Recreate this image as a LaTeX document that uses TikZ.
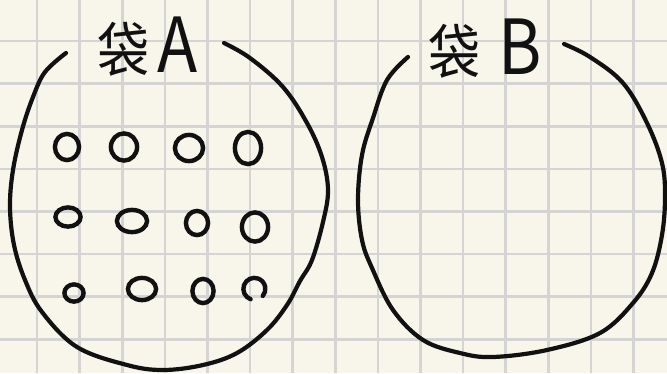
\documentclass[tikz,border=0pt]{standalone}
\usepackage{fontspec}
\newfontfamily\cjk{Noto Sans CJK SC}
\usepackage{tikz}
\usetikzlibrary{positioning}
\definecolor{paper}{HTML}{F8F6EA}
\definecolor{rule}{HTML}{D4D4D4}
\definecolor{pen}{HTML}{111111}
\tikzset{
  gridline/.style={rule,line width=2.6pt},
  bagline/.style={pen,line width=4.2pt,line cap=round,line join=round},
  ball/.style={pen,line width=4.4pt,line cap=round},
}

\begin{document}
\begin{tikzpicture}[x=1pt,y=-1pt]
  \fill[paper] (0,0) rectangle (667,373);
  \useasboundingbox (0,0) rectangle (667,373);
  % squared paper
  \foreach \i in {0,...,14} \draw[gridline] ({37+42.6*\i},0) -- ({37+42.6*\i},373);
  \foreach \j in {1,...,8} \draw[gridline] (0,{-1.6+42.6*\j}) -- (667,{-1.6+42.6*\j});
  % bag A
  \draw[bagline] plot[smooth,tension=0.6] coordinates {(66,53) (45,72) (33,97) (22,130) (13,170) (10,207) (14,245) (25,280) (42,312) (77,347) (127,365) (163,370) (203,365) (237,353) (267,330) (287,305) (300,281) (312,260) (323,222) (328,190) (322,157) (307,123) (283,87) (250,58) (224,43)};
  % bag B
  \draw[bagline] plot[smooth,tension=0.6] coordinates {(408,57) (387,80) (373,118) (362,155) (358,200) (362,240) (372,268) (393,310) (423,340) (460,353) (493,357) (547,350) (600,333) (633,303) (652,273) (662,235) (665,197) (662,163) (647,123) (623,83) (590,57) (564,44)};
  \node[pen,anchor=base west,inner sep=0pt,yscale=1.15] (labelA) at (97,72) {\cjk\fontsize{52}{52}\selectfont 袋\hspace{8pt}\fontsize{66}{66}\selectfont A};
  \node[pen,anchor=base west,inner sep=0pt,yscale=1.15] (labelB) at (428,74) {\cjk\fontsize{52}{52}\selectfont 袋\hspace{18pt}\fontsize{66}{66}\selectfont B};
  % balls in bag A
  \foreach \cx/\cy/\rx/\ry in {67/147/12.1/13.1, 124/147/13.1/13.6, 189/148/14.1/13.1, 248/148/13.1/16.1,
      68/217/12.6/9.6, 132/221/15.1/11.1, 197/223/11.1/12.1, 255/227/13.1/14.6,
      74/293/9.6/8.6, 142/289/14.1/11.1, 203/291/10.6/12.1}
    \draw[ball] (\cx,\cy) ellipse [x radius=\rx pt, y radius=\ry pt];
  \draw[ball] (250.6,299.2) arc[start angle=250, end angle=-40, x radius=11pt, y radius=11pt];
\end{tikzpicture}
\end{document}
